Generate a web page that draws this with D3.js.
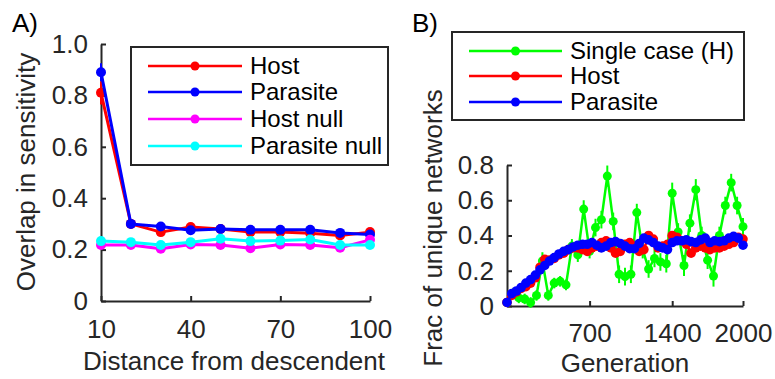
<!DOCTYPE html>
<html><head><meta charset="utf-8">
<script src="https://cdn.jsdelivr.net/npm/d3@7"></script>
<style>
html,body{margin:0;padding:0;background:#fff;}
svg{display:block;font-family:"Liberation Sans",Arial,Helvetica,sans-serif;}
</style></head>
<body>
<svg id="chart" width="775" height="379"></svg>
<script>
// ---------- Panel A data ----------
const distances = [10,20,30,40,50,60,70,80,90,100];
const hostA = [0.81,0.30,0.268,0.288,0.280,0.268,0.268,0.264,0.255,0.268];
const parasiteA = [0.89,0.30,0.290,0.275,0.280,0.277,0.277,0.277,0.265,0.259];
const hostNullA = [0.218,0.218,0.203,0.220,0.218,0.205,0.220,0.218,0.207,0.238];
const parasiteNullA = [0.233,0.229,0.218,0.229,0.242,0.233,0.235,0.239,0.218,0.218];
const hostErrA = [0.045,0.015,0.015,0.01,0.01,0.01,0.01,0.01,0.01,0.012];
const parasiteErrA = [0.035,0.012,0.01,0.01,0.01,0.01,0.01,0.01,0.01,0.01];
const hostNullErrA = [0.008,0.008,0.008,0.008,0.008,0.008,0.008,0.008,0.008,0.008];
const parasiteNullErrA = [0.008,0.008,0.008,0.008,0.008,0.008,0.008,0.008,0.008,0.008];
const xTicksA = [10,40,70,100];
const yTicksA = [0,0.2,0.4,0.6,0.8,1.0];
const yTickLabelsA = ["0","0.2","0.4","0.6","0.8","1.0"];
const legendA = ["Host","Parasite","Host null","Parasite null"];

// ---------- Panel B data ----------
const genSingle = [0,50,100,150,200,250,300,350,400,450,500,550,600,650,700,750,800,850,900,950,1000,
  1050,1100,1150,1200,1250,1300,1350,1400,1450,1500,1550,1600,1650,1700,1750,1800,1850,1900,1950,2000];
const singleB = [0.02,0.07,0.046,0.04,0.02,0.06,0.255,0.06,0.13,0.14,0.12,0.34,0.29,0.55,0.31,0.445,0.49,0.737,0.48,0.18,0.167,
  0.18,0.53,0.32,0.21,0.27,0.25,0.24,0.64,0.42,0.23,0.47,0.66,0.40,0.26,0.17,0.40,0.57,0.70,0.57,0.45];
const singleErrB = [0.02,0.03,0.03,0.03,0.03,0.03,0.05,0.03,0.03,0.03,0.03,0.04,0.04,0.05,0.04,0.05,0.05,0.06,0.05,0.05,0.05,
  0.05,0.05,0.05,0.05,0.05,0.05,0.05,0.06,0.05,0.06,0.05,0.06,0.05,0.05,0.06,0.05,0.05,0.05,0.05,0.05];
const genPop = [0,40,80,120,160,200,240,280,320,360,400,440,480,520,560,600,640,680,720,760,800,840,880,920,960,1000,
  1040,1080,1120,1160,1200,1240,1280,1320,1360,1400,1440,1480,1520,1560,1600,1640,1680,1720,1760,1800,1840,1880,1920,1960,2000];
const hostB = [0.02,0.06,0.08,0.10,0.11,0.13,0.16,0.22,0.265,0.26,0.27,0.29,0.30,0.32,0.33,0.33,0.32,0.31,0.33,0.34,0.36,0.37,0.33,0.30,0.31,0.35,
  0.36,0.34,0.31,0.32,0.40,0.38,0.33,0.34,0.35,0.40,0.39,0.37,0.35,0.30,0.33,0.34,0.33,0.32,0.33,0.33,0.34,0.35,0.36,0.39,0.38];
const parasiteB = [0.02,0.07,0.085,0.105,0.13,0.15,0.175,0.205,0.23,0.255,0.275,0.295,0.31,0.32,0.335,0.345,0.35,0.35,0.36,0.345,0.33,0.34,0.36,0.365,0.355,0.34,
  0.325,0.325,0.355,0.385,0.375,0.36,0.34,0.33,0.32,0.36,0.37,0.37,0.375,0.365,0.36,0.375,0.385,0.36,0.37,0.365,0.37,0.385,0.395,0.385,0.345];
const popErrB = [0.01,0.015,0.015,0.015,0.015,0.015,0.015,0.015,0.015,0.015,0.015,0.015,0.015,0.015,0.015,0.015,0.015,0.015,0.015,0.015,0.015,0.015,0.015,0.015,0.015,0.015,
  0.015,0.015,0.015,0.015,0.015,0.015,0.015,0.015,0.015,0.015,0.015,0.015,0.015,0.015,0.015,0.015,0.015,0.015,0.015,0.015,0.015,0.015,0.015,0.015,0.015];
const xTicksB = [700,1400,2000];
const yTicksB = [0,0.2,0.4,0.6,0.8];
const yTickLabelsB = ["0","0.2","0.4","0.6","0.8"];
const legendB = ["Single case (H)","Host","Parasite"];

const AX = "#262626";
const FONT = 26;
const svg = d3.select("#chart");

function drawAxes(x, y, xTicks, yTicks, yLabels, xPad) {
  const gx = svg.append("g").attr("transform", `translate(0,${y.range()[0]})`)
    .call(d3.axisBottom(x).tickValues(xTicks).tickFormat(d3.format("d")).tickSizeInner(-5).tickSizeOuter(0).tickPadding(xPad));
  const gy = svg.append("g").attr("transform", `translate(${x.range()[0]},0)`)
    .call(d3.axisLeft(y).tickValues(yTicks).tickFormat((d,i)=>yLabels[i]).tickSizeInner(-5).tickSizeOuter(0).tickPadding(13));
  [gx, gy].forEach(g => {
    g.select(".domain").attr("stroke", AX).attr("stroke-width", 2);
    g.selectAll(".tick line").attr("stroke", AX).attr("stroke-width", 2);
    g.selectAll(".tick text").attr("fill", AX).style("font-size", FONT + "px").style("font-family", "'Liberation Sans',Arial,sans-serif");
  });
}

function drawSeries(x, y, xs, vals, errs, color, lw, r) {
  const g = svg.append("g");
  const pts = xs.map((d,i)=>({x:d, v:vals[i], e:errs ? errs[i] : 0}));
  if (errs) {
    g.selectAll("line.err").data(pts).enter().append("line")
      .attr("x1", d=>x(d.x)).attr("x2", d=>x(d.x))
      .attr("y1", d=>y(d.v - d.e)).attr("y2", d=>y(d.v + d.e))
      .attr("stroke", color).attr("stroke-width", 2);
  }
  g.append("path").datum(pts)
    .attr("d", d3.line().x(d=>x(d.x)).y(d=>y(d.v)))
    .attr("fill","none").attr("stroke", color).attr("stroke-width", lw).attr("stroke-linejoin","round");
  g.selectAll("circle").data(pts).enter().append("circle")
    .attr("cx", d=>x(d.x)).attr("cy", d=>y(d.v)).attr("r", r).attr("fill", color);
}

function drawLegend(x0, y0, w, h, labels, colors, rows, lineX1, lineX2, textX, fs) {
  svg.append("rect").attr("x", x0).attr("y", y0).attr("width", w).attr("height", h)
    .attr("fill","#fff").attr("stroke", AX).attr("stroke-width", 2);
  labels.forEach((lab,i)=>{
    const yy = rows[i];
    svg.append("line").attr("x1", lineX1).attr("x2", lineX2).attr("y1", yy).attr("y2", yy)
      .attr("stroke", colors[i]).attr("stroke-width", 2.5);
    svg.append("circle").attr("cx", (lineX1+lineX2)/2).attr("cy", yy).attr("r", 4.5).attr("fill", colors[i]);
    svg.append("text").attr("x", textX).attr("y", yy).attr("dy","0.35em")
      .attr("fill","#000").style("font-size", fs+"px").text(lab);
  });
}

// ---------- Panel A ----------
const xA = d3.scaleLinear().domain([10,100]).range([101,370]);
const yA = d3.scaleLinear().domain([0,1]).range([301,44]);
drawAxes(xA, yA, xTicksA, yTicksA, yTickLabelsA, 19);
const colorsA = ["#ff0000","#0000ff","#ff00ff","#00ffff"];
drawSeries(xA, yA, distances, hostA, hostErrA, colorsA[0], 3, 5);
drawSeries(xA, yA, distances, parasiteA, parasiteErrA, colorsA[1], 3, 5);
drawSeries(xA, yA, distances, hostNullA, hostNullErrA, colorsA[2], 3, 5);
drawSeries(xA, yA, distances, parasiteNullA, parasiteNullErrA, colorsA[3], 3, 5);
drawLegend(131, 47, 257, 118, legendA, colorsA, [66,92,119,146], 148, 242, 250, 24);

svg.append("text").attr("x", 234).attr("y", 370).attr("text-anchor","middle")
  .attr("fill", AX).style("font-size", FONT+"px").text("Distance from descendent");
svg.append("text").attr("transform","translate(35,172) rotate(-90)").attr("text-anchor","middle")
  .attr("fill", AX).style("font-size", FONT+"px").text("Overlap in sensitivity");
svg.append("text").attr("x", 12).attr("y", 32).attr("fill","#000").style("font-size", FONT+"px").text("A)");

// ---------- Panel B ----------
const xB = d3.scaleLinear().domain([0,2000]).range([507,743]);
const yB = d3.scaleLinear().domain([0,0.8]).range([306,165]);
drawAxes(xB, yB, xTicksB, yTicksB, yTickLabelsB, 18);
const colorsB = ["#00ff00","#ff0000","#0000ff"];
drawSeries(xB, yB, genSingle, singleB, singleErrB, colorsB[0], 2.5, 4.5);
drawSeries(xB, yB, genPop, hostB, popErrB, colorsB[1], 2.5, 4.8);
drawSeries(xB, yB, genPop, parasiteB, popErrB, colorsB[2], 2.5, 4.8);
drawLegend(452, 32, 292, 88, legendB, colorsB, [51,76,102], 469, 562, 570, 24);

svg.append("text").attr("x", 625).attr("y", 372).attr("text-anchor","middle")
  .attr("fill", AX).style("font-size", FONT+"px").text("Generation");
svg.append("text").attr("transform","translate(442,228) rotate(-90)").attr("text-anchor","middle")
  .attr("fill", AX).style("font-size", FONT+"px").text("Frac of unique networks");
svg.append("text").attr("x", 412).attr("y", 32).attr("fill","#000").style("font-size", FONT+"px").text("B)");
</script>
</body></html>
